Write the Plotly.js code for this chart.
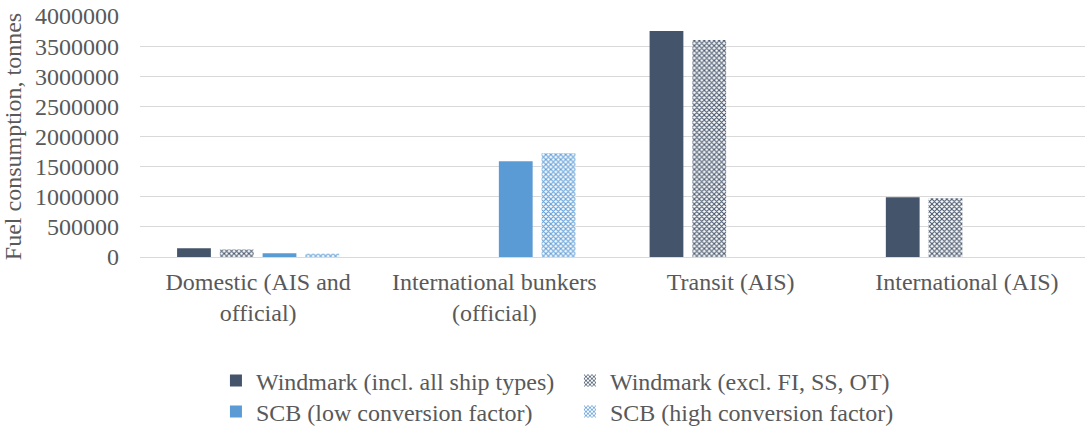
<!DOCTYPE html>
<html>
<head>
<meta charset="utf-8">
<script src="https://cdn.plot.ly/plotly-3.0.1.min.js"></script>
<style>
  html, body { margin: 0; padding: 0; background: #ffffff; }
  #chart { width: 1089px; height: 429px; }
</style>
</head>
<body>
<div id="chart"></div>
<script>
// Fuel consumption (tonnes) by category and source
const categories = [
  "Domestic (AIS and<br>official)",
  "International bunkers<br>(official)",
  "Transit (AIS)",
  "International (AIS)"
];
const seriesNames = [
  "Windmark (incl. all ship types)",
  "Windmark (excl. FI, SS, OT)",
  "SCB (low conversion factor)",
  "SCB (high conversion factor)"
];
const windmarkAll  = [145000, null, 3750000, 990000];
const windmarkExcl = [125000, null, 3600000, 975000];
const scbLow       = [62000, 1590000, null, null];
const scbHigh      = [55000, 1720000, null, null];
const yTicks = [0, 500000, 1000000, 1500000, 2000000, 2500000, 3000000, 3500000, 4000000];

const dark = "#44546A";
const blue = "#5B9BD5";
const fontFamily = "Liberation Serif, Times New Roman, serif";
const textColor = "#595959";

function solid(color) {
  return { color: color, line: { width: 0 } };
}
// fine checkered fill on white
function checker(color) {
  return {
    color: color,
    line: { width: 0 },
    pattern: { shape: "x", fgcolor: color, bgcolor: "#ffffff", fgopacity: 1, size: 3.5, solidity: 0.5, fillmode: "replace" }
  };
}

// first legend row holds the Windmark series, second row the SCB series
const traces = [
  { name: seriesNames[0], y: windmarkAll,  marker: solid(dark),   legend: "legend" },
  { name: seriesNames[1], y: windmarkExcl, marker: checker(dark), legend: "legend" },
  { name: seriesNames[2], y: scbLow,       marker: solid(blue),   legend: "legend2" },
  { name: seriesNames[3], y: scbHigh,      marker: checker(blue), legend: "legend2" }
].map(t => Object.assign({ type: "bar", x: categories, hoverinfo: "skip" }, t));

function legendRow(yCenter) {
  return {
    orientation: "h",
    xref: "container",
    yref: "container",
    x: 0.1983,
    xanchor: "left",
    y: yCenter,
    yanchor: "middle",
    entrywidth: 309,
    traceorder: "normal",
    font: { family: fontFamily, size: 24, color: textColor },
    bgcolor: "rgba(0,0,0,0)"
  };
}

const layout = {
  width: 1089,
  height: 429,
  autosize: false,
  paper_bgcolor: "#ffffff",
  plot_bgcolor: "#ffffff",
  margin: { l: 140, r: 4, t: 16, b: 172, autoexpand: false },
  font: { family: fontFamily, size: 24, color: textColor },
  barmode: "group",
  bargap: 0.276,
  bargroupgap: 0.21,
  xaxis: {
    type: "category",
    showgrid: false,
    showline: false,
    zeroline: false,
    ticks: "",
    ticklabelstandoff: 8,
    tickfont: { family: fontFamily, size: 24, color: textColor }
  },
  yaxis: {
    range: [0, 4000000],
    tickvals: yTicks,
    ticktext: yTicks.map(v => String(v)),
    showgrid: true,
    gridcolor: "#D9D9D9",
    gridwidth: 1,
    zeroline: true,
    zerolinecolor: "#D9D9D9",
    zerolinewidth: 1,
    showline: false,
    ticks: "",
    ticklabelstandoff: 20,
    tickfont: { family: fontFamily, size: 24, color: textColor },
    title: { text: "Fuel consumption, tonnes", font: { family: fontFamily, size: 24, color: textColor }, standoff: 14 }
  },
  showlegend: true,
  legend: legendRow(1 - 381 / 429),
  legend2: legendRow(1 - 412 / 429)
};

Plotly.newPlot("chart", traces, layout, { staticPlot: true, displayModeBar: false });
</script>
</body>
</html>
